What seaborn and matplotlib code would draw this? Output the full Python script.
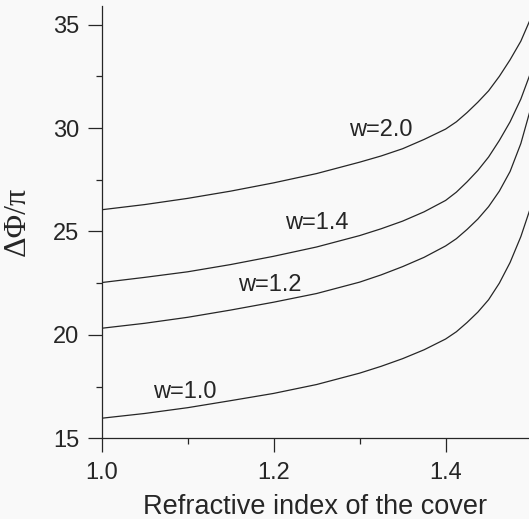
import numpy as np
import pandas as pd
import seaborn as sns
import matplotlib
matplotlib.use("Agg")
import matplotlib.pyplot as plt
from matplotlib.ticker import MultipleLocator, FormatStrFormatter

# refractive index of the cover (x) and phase shift / pi for each width w
n_cover = [1.0, 1.05, 1.1, 1.15, 1.2, 1.25, 1.3, 1.325, 1.35, 1.375, 1.4, 1.4125,
           1.425, 1.4375, 1.45, 1.4625, 1.475, 1.4875, 1.5]
phi_w10 = [15.97, 16.2, 16.48, 16.82, 17.17, 17.6, 18.15, 18.48, 18.85, 19.28, 19.8, 20.15,
           20.6, 21.1, 21.7, 22.5, 23.5, 24.75, 26.3]
phi_w12 = [20.32, 20.56, 20.85, 21.2, 21.58, 22.0, 22.55, 22.9, 23.3, 23.75, 24.3, 24.65,
           25.1, 25.6, 26.2, 26.95, 27.9, 29.25, 31.1]
phi_w14 = [22.53, 22.78, 23.05, 23.4, 23.8, 24.25, 24.8, 25.13, 25.5, 25.95, 26.5, 26.9,
           27.4, 27.95, 28.6, 29.4, 30.3, 31.4, 32.8]
phi_w20 = [26.05, 26.3, 26.6, 26.95, 27.35, 27.8, 28.35, 28.65, 29.0, 29.45, 29.95, 30.3,
           30.75, 31.25, 31.8, 32.5, 33.3, 34.2, 35.4]
widths = ["w=1.0", "w=1.2", "w=1.4", "w=2.0"]

# label anchor points (centre of text, data coords)
label_x = [1.097, 1.196, 1.250, 1.325]
label_y = [17.25, 22.42, 25.42, 29.9]

frames = []
for name, vals in zip(widths, [phi_w10, phi_w12, phi_w14, phi_w20]):
    frames.append(pd.DataFrame({"n": n_cover, "phi": vals, "w": name}))
df = pd.concat(frames, ignore_index=True)

sns.set_style("ticks")
plt.rcParams["font.family"] = ["Liberation Sans", "DejaVu Sans"]
ink = "#262626"
bg = "#f9f9f9"

fig = plt.figure(figsize=(5.29, 5.19), dpi=100, facecolor=bg)
ax = fig.add_axes([0.1922, 0.1555, 0.8078, 0.8329])
ax.set_facecolor(bg)

sns.lineplot(data=df, x="n", y="phi", hue="w", palette=[ink] * 4,
             linewidth=0.9, legend=False, ax=ax)

for txt, tx, ty in zip(widths, label_x, label_y):
    ax.text(tx, ty, txt, ha="center", va="center", fontsize=17, color=ink)

ax.set_xlim(1.0, 1.497)
ax.set_ylim(15, 35.9)
ax.xaxis.set_major_locator(MultipleLocator(0.2))
ax.xaxis.set_minor_locator(MultipleLocator(0.1))
ax.yaxis.set_major_locator(MultipleLocator(5))
ax.yaxis.set_minor_locator(MultipleLocator(2.5))
ax.xaxis.set_major_formatter(FormatStrFormatter("%.1f"))

ax.tick_params(which="major", length=10, width=0.9, color=ink, labelsize=17,
               labelcolor=ink, pad=6)
ax.tick_params(which="minor", length=4, width=0.9, color=ink)
ax.tick_params(axis="x", which="major", pad=7)
for s in ["top", "right"]:
    ax.spines[s].set_visible(False)
for s in ["left", "bottom"]:
    ax.spines[s].set_color(ink)
    ax.spines[s].set_linewidth(0.9)

ax.set_xlabel("Refractive index of the cover", fontsize=19.5, color=ink, labelpad=7)
ax.set_ylabel("")
# y label placed by hand, centred where the reference has it
fig.text(17 / 529, (519 - 221.5) / 519, "ΔΦ/π", rotation=90, ha="center", va="center",
         fontsize=23, color=ink, family=["Liberation Serif", "DejaVu Serif"])

plt.savefig("out.png", dpi=100, facecolor=bg)
